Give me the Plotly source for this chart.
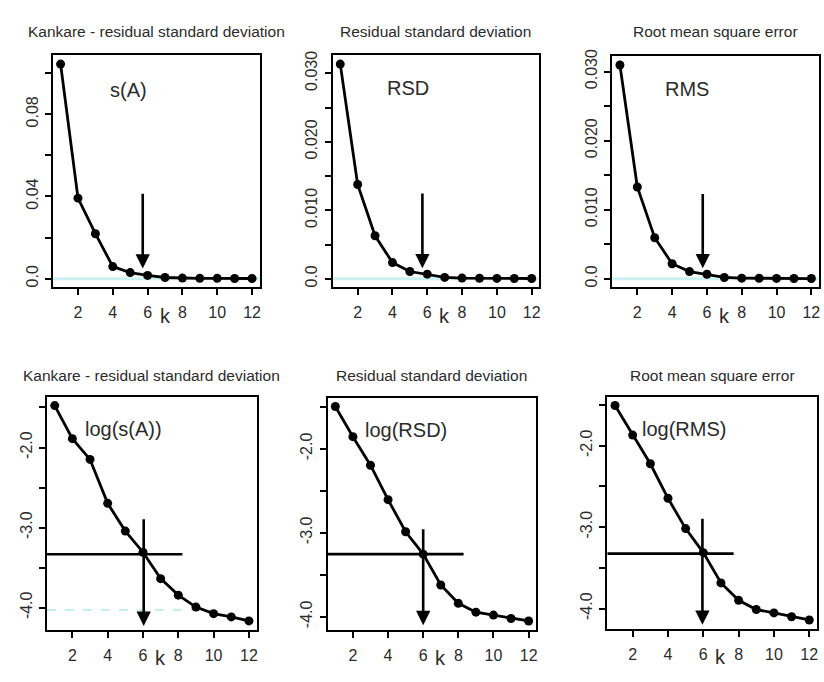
import plotly.graph_objects as go

W, H = 824, 682

# ---------------- data ----------------
k = list(range(1, 13))
s_A = [0.1044, 0.0392, 0.0219, 0.0059, 0.0030, 0.0016, 0.0006, 0.0003, 0.0002, 0.0002, 0.0001, 0.0001]
rsd = [0.03135, 0.01377, 0.00628, 0.00237, 0.00106, 0.00068, 0.0002, 0.0001, 0.00008, 0.00006, 0.00005, 0.00004]
rms = [0.03095, 0.01329, 0.00595, 0.00219, 0.00105, 0.00067, 0.0002, 0.0001, 0.00008, 0.00006, 0.00005, 0.00004]
log_s_A = [-1.476, -1.889, -2.148, -2.697, -3.043, -3.307, -3.637, -3.843, -3.992, -4.074, -4.115, -4.165]
log_rsd = [-1.496, -1.855, -2.195, -2.605, -2.988, -3.254, -3.621, -3.840, -3.945, -3.980, -4.020, -4.050]
log_rms = [-1.507, -1.870, -2.222, -2.646, -3.018, -3.313, -3.685, -3.899, -4.012, -4.053, -4.100, -4.140]

series = [s_A, rsd, rms, log_s_A, log_rsd, log_rms]
titles = ["Kankare - residual standard deviation", "Residual standard deviation", "Root mean square error",
          "Kankare - residual standard deviation", "Residual standard deviation", "Root mean square error"]
labels = ["s(A)", "RSD", "RMS", "log(s(A))", "log(RSD)", "log(RMS)"]
label_k = [4.9, 4.9, 4.86, 4.87, 5.04, 4.9]
label_y = [0.092, 0.0279, 0.0275, -1.77, -1.78, -1.80]

x_tickvals = [2, 4, 6, 8, 10, 12]
x_ticktext = ["2", "4", "6", "8", "10", "12"]
k_label_pos = 7
y_tickvals = [
    [0, 0.02, 0.04, 0.06, 0.08, 0.10],
    [0, 0.005, 0.010, 0.015, 0.020, 0.025, 0.030],
    [0, 0.005, 0.010, 0.015, 0.020, 0.025, 0.030],
    [-1.5, -2.0, -2.5, -3.0, -3.5, -4.0],
    [-1.5, -2.0, -2.5, -3.0, -3.5, -4.0],
    [-1.5, -2.0, -2.5, -3.0, -3.5, -4.0],
]
y_ticktext = [
    ["0.0", "", "0.04", "", "0.08", ""],
    ["0.0", "", "0.010", "", "0.020", "", "0.030"],
    ["0.0", "", "0.010", "", "0.020", "", "0.030"],
    ["", "-2.0", "", "-3.0", "", "-4.0"],
    ["", "-2.0", "", "-3.0", "", "-4.0"],
    ["", "-2.0", "", "-3.0", "", "-4.0"],
]

# top row: vertical arrows pointing at the chosen k
arrow_k_top = [5.72, 5.72, 5.76]
arrow_from_top = [0.042, 0.01266, 0.01248]
arrow_to_top = [0.005, 0.00155, 0.00152]
baseline_top = [0, 0, 0]

# bottom row: crosshair lines
cross_k = [6.04, 6.0, 5.95]
cross_level = [-3.332, -3.254, -3.325]
cross_h_end = [8.23, 8.3, 7.72]
cross_v_top = [-2.878, -2.94, -2.88]
cross_v_bottom = [-4.227, -4.10, -4.20]
faint_level_p4 = -4.03
faint_end_p4 = 10.0

# ---------------- layout (pixel boxes of the six panels) ----------------
boxes = [
    (53, 260, 49, 283),
    (333, 540, 49, 283),
    (613, 820, 50, 283),
    (47, 257, 394, 629),
    (328, 537, 395, 629),
    (608, 818, 394, 628),
]
title_y_px = [25, 25, 25, 372, 372, 372]

FONT = "Liberation Sans, Arial, sans-serif"
TXT = "#2b2b2b"


def rng(vals):
    lo, hi = min(vals), max(vals)
    pad = 0.04 * (hi - lo)
    return [lo - pad, hi + pad]


x_range = [1 - 0.04 * 11, 12 + 0.04 * 11]

fig = go.Figure()
annotations = []
shapes = []

for i in range(6):
    xa = "x" if i == 0 else f"x{i + 1}"
    ya = "y" if i == 0 else f"y{i + 1}"
    xl = "xaxis" if i == 0 else f"xaxis{i + 1}"
    yl = "yaxis" if i == 0 else f"yaxis{i + 1}"
    x0, x1, y0, y1 = boxes[i]
    yr = rng(series[i])

    fig.add_trace(go.Scatter(
        x=k, y=series[i], mode="lines+markers", xaxis=xa, yaxis=ya,
        line=dict(color="black", width=2.8),
        marker=dict(color="black", size=9),
        showlegend=False, hoverinfo="skip",
    ))

    axis_common = dict(
        showgrid=False, zeroline=False, showline=True, mirror=True,
        linecolor="black", linewidth=2, ticks="outside", ticklen=6,
        tickwidth=1.8, tickcolor="black",
        tickfont=dict(family=FONT, size=16, color=TXT),
    )
    fig.update_layout({
        xl: dict(axis_common, domain=[x0 / W, x1 / W], range=x_range, anchor=ya,
                 tickmode="array", tickvals=x_tickvals, ticktext=x_ticktext,
                 ticklabelstandoff=4),
        yl: dict(axis_common, domain=[1 - y1 / H, 1 - y0 / H], range=yr, anchor=xa,
                 tickmode="array", tickvals=y_tickvals[i], ticktext=y_ticktext[i],
                 tickangle=-90, ticklabelstandoff=1),
    })

    # panel title
    annotations.append(dict(
        x=(x0 + x1) / 2 / W, y=1 - title_y_px[i] / H, xref="paper", yref="paper",
        text=titles[i], showarrow=False, xanchor="center", yanchor="middle",
        font=dict(family=FONT, size=15.5, color=TXT),
    ))
    # in-plot label
    annotations.append(dict(
        x=label_k[i], y=label_y[i], xref=xa, yref=ya, text=labels[i], showarrow=False,
        xanchor="center", yanchor="middle", font=dict(family=FONT, size=20, color=TXT),
    ))
    # "k" axis label squeezed between tick labels
    annotations.append(dict(
        x=k_label_pos, y=1 - (y1 + 29) / H, xref=xa, yref="paper", text="k", showarrow=False,
        xanchor="center", yanchor="middle", font=dict(family=FONT, size=20, color=TXT),
    ))

    if i < 3:
        shapes.append(dict(type="line", xref=xa, yref=ya, x0=x_range[0], x1=x_range[1],
                           y0=baseline_top[i], y1=baseline_top[i], layer="below",
                           line=dict(color="rgba(110,215,215,0.35)", width=3)))
        annotations.append(dict(
            x=arrow_k_top[i], y=arrow_to_top[i], ax=arrow_k_top[i], ay=arrow_from_top[i],
            xref=xa, yref=ya, axref=xa, ayref=ya, text="", showarrow=True,
            arrowhead=2, arrowsize=1.1, arrowwidth=2.6, arrowcolor="black", standoff=0,
        ))
    else:
        j = i - 3
        shapes.append(dict(type="line", xref=xa, yref=ya, x0=x_range[0], x1=cross_h_end[j],
                           y0=cross_level[j], y1=cross_level[j],
                           line=dict(color="black", width=2.6)))
        annotations.append(dict(
            x=cross_k[j], y=cross_v_bottom[j], ax=cross_k[j], ay=cross_v_top[j],
            xref=xa, yref=ya, axref=xa, ayref=ya, text="", showarrow=True,
            arrowhead=2, arrowsize=1.1, arrowwidth=2.6, arrowcolor="black", standoff=0,
        ))
        if j == 0:
            shapes.append(dict(type="line", xref=xa, yref=ya, x0=x_range[0], x1=faint_end_p4,
                               y0=faint_level_p4, y1=faint_level_p4, layer="below",
                               line=dict(color="rgba(110,215,215,0.4)", width=2, dash="dash")))

fig.update_layout(
    width=W, height=H, margin=dict(l=0, r=0, t=0, b=0),
    paper_bgcolor="white", plot_bgcolor="white",
    annotations=annotations, shapes=shapes, showlegend=False,
)

fig.write_html("out.html")
